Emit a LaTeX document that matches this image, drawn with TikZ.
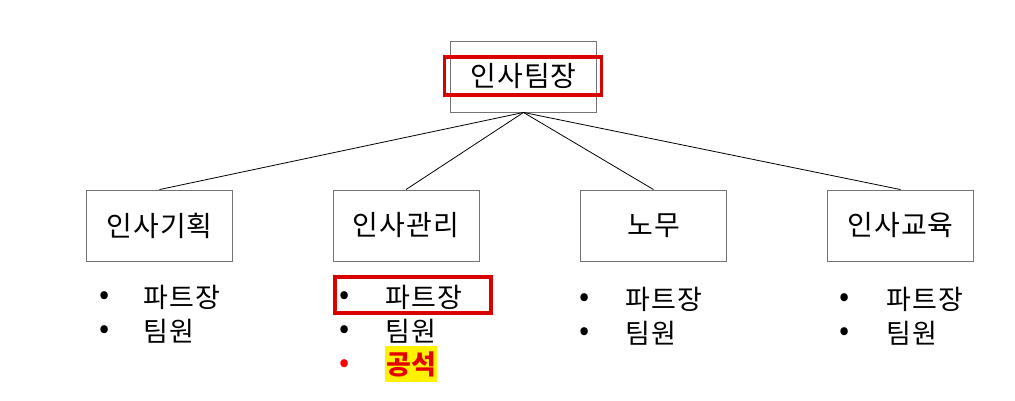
\documentclass[tikz,border=0pt]{standalone}
\usepackage{fontspec}
\setmainfont{Noto Sans CJK KR}
\begin{document}
\begin{tikzpicture}[x=1pt, y=-1pt]
    \tikzstyle{unit} = [draw=black!55, fill=white, line width=0.9pt, minimum width=146pt, minimum height=71pt, inner sep=0pt, font=\fontsize{28}{32}\selectfont\addfontfeature{LetterSpace=4}]
    \tikzstyle{link} = [black, line width=0.8pt]
    \tikzstyle{redbox} = [draw=red!85!black, line width=3.8pt, inner sep=0pt]
    \tikzstyle{dot} = [inner sep=0pt, font=\fontsize{30}{32}\selectfont]
    \tikzstyle{item} = [anchor=west, inner sep=0pt, font=\fontsize{27}{30}\selectfont\addfontfeature{LetterSpace=4}]

    \useasboundingbox (0,0) rectangle (1015,401);

    % Head of the team
    \node [unit] (head) at (523.5,76.5) {인사팀장};
    \node [redbox, minimum width=157pt, minimum height=38pt] (headmark) at (523,76) {};

    % Four parts
    \node [unit] (plan) at (159.5,225.5) {인사기획};
    \node [unit] (admin) at (406,225.5) {인사관리};
    \node [unit] (labor) at (653.5,225.5) {노무};
    \node [unit] (edu) at (900.5,225.5) {인사교육};

    % Tree lines
    \draw [link] (head.south) -- (plan.north);
    \draw [link] (head.south) -- (admin.north);
    \draw [link] (head.south) -- (labor.north);
    \draw [link] (head.south) -- (edu.north);

    % Members of each part
    \node [dot] (plan-d1) at (105,298) {•};
    \node [item] (plan-1) at (143,297) {파트장};
    \node [dot] (plan-d2) at (105,332) {•};
    \node [item] (plan-2) at (143,331) {팀원};

    \node [dot] (admin-d1) at (345,298) {•};
    \node [item] (admin-1) at (385,297) {파트장};
    \node [dot] (admin-d2) at (345,332) {•};
    \node [item] (admin-2) at (385,331) {팀원};
    \node [dot, text=red] (admin-d3) at (345,366) {•};
    \node [item, fill=yellow, text=red!90!black, font=\fontsize{27}{30}\selectfont\bfseries\addfontfeature{LetterSpace=2}, minimum height=36pt, inner xsep=1pt] (admin-3) at (385,364) {공석};
    \node [redbox, minimum width=156pt, minimum height=36pt] (adminmark) at (413,295) {};

    \node [dot] (labor-d1) at (585,300) {•};
    \node [item] (labor-1) at (625,299) {파트장};
    \node [dot] (labor-d2) at (585,334) {•};
    \node [item] (labor-2) at (625,333) {팀원};

    \node [dot] (edu-d1) at (845,300) {•};
    \node [item] (edu-1) at (886,299) {파트장};
    \node [dot] (edu-d2) at (845,334) {•};
    \node [item] (edu-2) at (886,333) {팀원};
\end{tikzpicture}
\end{document}
